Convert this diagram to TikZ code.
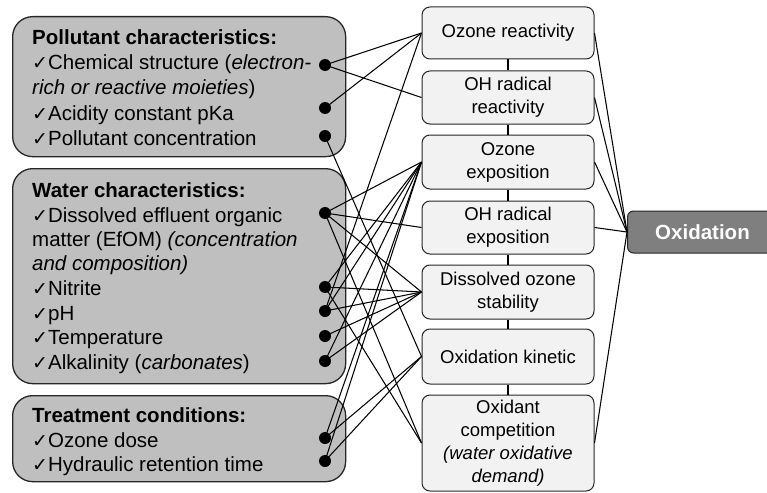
\documentclass[tikz,border=0pt]{standalone}
\usepackage{fontspec}
\setmainfont{Liberation Sans}
\newfontfamily\chkfont{DejaVu Sans}
\newcommand{\chkmark}{{\chkfont\fontsize{19}{19}\selectfont ✓}}
\definecolor{lgray}{HTML}{BFBFBF}
\definecolor{midfill}{HTML}{F2F2F2}
\definecolor{oxfill}{HTML}{7F7F7F}
\begin{document}
\begin{tikzpicture}[x=1pt,y=-1pt,
  groupbox/.style={draw=black!85, line width=1.3pt, fill=lgray, rounded corners=20pt, anchor=north west, inner sep=0pt},
  midbox/.style={draw=black!85, line width=1pt, fill=midfill, rounded corners=8pt, minimum width=172pt, align=center, inner sep=0pt, font=\fontsize{18.5}{23}\selectfont},
  dotnode/.style={circle, fill=black, inner sep=0pt, minimum size=12pt},
  link/.style={line width=1.05pt, black},
  ltext/.style={anchor=base west, inner sep=0pt, font=\fontsize{20.5}{24.5}\selectfont}]
\useasboundingbox (0,0) rectangle (767,492);

% left group boxes
\node[groupbox, minimum width=333pt, minimum height=140pt] (pbox) at (12,16) {};
\node[groupbox, minimum width=333pt, minimum height=215pt] (wbox) at (12,168) {};
\node[groupbox, minimum width=333pt, minimum height=86pt] (tbox) at (12,395) {};

% left texts
\node[ltext] (pt0) at (32,45) {\textbf{Pollutant characteristics:}};
\node[ltext] (pt1) at (32,70) {\chkmark Chemical structure (\textit{electron-}};
\node[ltext] (pt2) at (32,95) {\textit{rich or reactive moieties})};
\node[ltext] (pt3) at (32,120) {\chkmark Acidity constant pKa};
\node[ltext] (pt4) at (32,145) {\chkmark Pollutant concentration};

\node[ltext] (wt0) at (32,197) {\textbf{Water characteristics:}};
\node[ltext] (wt1) at (32,222) {\chkmark Dissolved effluent organic};
\node[ltext] (wt2) at (32,246) {matter (EfOM) \textit{(concentration}};
\node[ltext] (wt3) at (32,270) {\textit{and composition)}};
\node[ltext] (wt4) at (32,295) {\chkmark Nitrite};
\node[ltext] (wt5) at (32,320) {\chkmark pH};
\node[ltext] (wt6) at (32,344) {\chkmark Temperature};
\node[ltext] (wt7) at (32,369) {\chkmark Alkalinity (\textit{carbonates})};

\node[ltext] (tt0) at (32,422) {\textbf{Treatment conditions:}};
\node[ltext] (tt1) at (32,447) {\chkmark Ozone dose};
\node[ltext] (tt2) at (32,471) {\chkmark Hydraulic retention time};

% middle boxes
\node[midbox, minimum height=52pt] (m1) at (508,33) {Ozone reactivity};
\node[midbox, minimum height=53pt] (m2) at (508,97.5) {OH radical\\reactivity};
\node[midbox, minimum height=54pt] (m3) at (508,162) {Ozone\\exposition};
\node[midbox, minimum height=53pt] (m4) at (508,227.5) {OH radical\\exposition};
\node[midbox, minimum height=54pt] (m5) at (508,292) {Dissolved ozone\\stability};
\node[midbox, minimum height=55pt] (m6) at (508,356.5) {Oxidation kinetic};
\node[midbox, minimum height=96pt] (m7) at (508,443) {Oxidant\\competition\\\textit{(water oxidative}\\\textit{demand)}};

\draw[link] (m1.south) -- (m2.north);
\draw[link] (m2.south) -- (m3.north);
\draw[link] (m3.south) -- (m4.north);
\draw[link] (m4.south) -- (m5.north);
\draw[link] (m5.south) -- (m6.north);
\draw[link] (m6.south) -- (m7.north);

% oxidation
\node[draw=black!85, line width=1pt, fill=oxfill, rounded corners=6pt, minimum width=150pt, minimum height=42pt, anchor=west, text=white, font=\bfseries\fontsize{20.5}{24}\selectfont] (ox) at (627,232) {Oxidation};

\foreach \m in {m1,m2,m3,m4,m7} \draw[link] (\m.east) -- (ox.west);

% dot positions
\coordinate (p1) at (325,65);
\coordinate (p2) at (325,108);
\coordinate (p3) at (325,136);
\coordinate (w1) at (325,213);
\coordinate (w2) at (325,287);
\coordinate (w3) at (325,311);
\coordinate (w4) at (325,336);
\coordinate (w5) at (325,361);
\coordinate (t1) at (325,438);
\coordinate (t2) at (325,461);

% links
\draw[link] (p1) -- (m1.west);
\draw[link] (p1) -- (m2.west);
\draw[link] (p2) -- (m1.west);
\draw[link] (p3) -- (m6.west);
\draw[link] (w1) -- (m3.west);
\draw[link] (w1) -- (m4.west);
\draw[link] (w1) -- (m5.west);
\draw[link] (w1) -- (m7.west);
\draw[link] (w2) -- (m3.west);
\draw[link] (w2) -- (m5.west);
\draw[link] (w2) -- (m7.west);
\draw[link] (w3) -- (m1.west);
\draw[link] (w3) -- (m3.west);
\draw[link] (w3) -- (m5.west);
\draw[link] (w4) -- (m5.west);
\draw[link] (w5) -- (m3.west);
\draw[link] (w5) -- (m5.west);
\draw[link] (t1) -- (m3.west);
\draw[link] (t1) -- (m6.west);
\draw[link] (t2) -- (m3.west);
\draw[link] (t2) -- (m6.west);

% dots
\foreach \d in {p1,p2,p3,w1,w2,w3,w4,w5,t1,t2} \node[dotnode] (\d d) at (\d) {};
\end{tikzpicture}
\end{document}
